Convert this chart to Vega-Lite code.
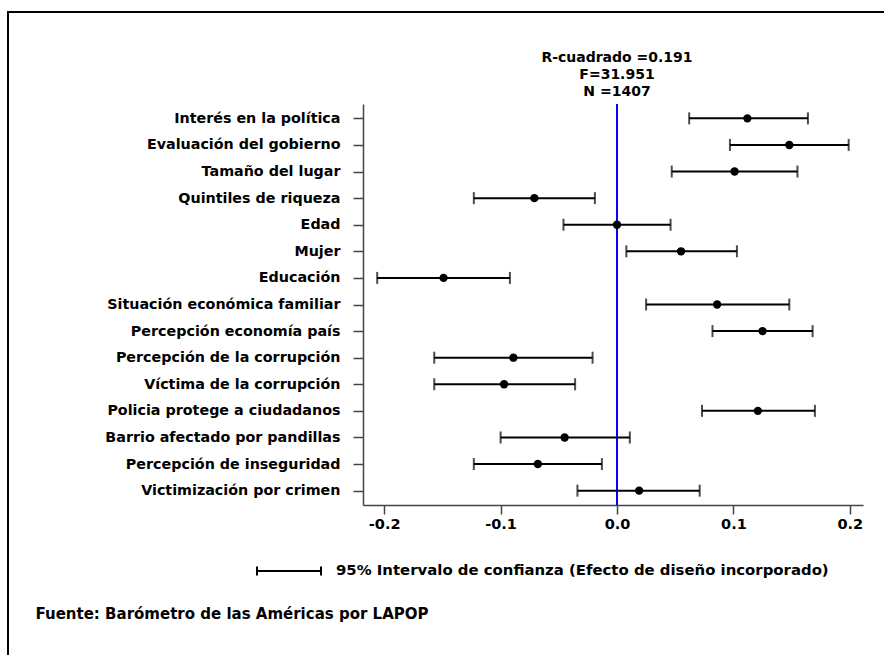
{
  "$schema": "https://vega.github.io/schema/vega-lite/v6.json",
  "width": 500,
  "height": 401,
  "autosize": {"type": "none"},
  "padding": {"left": 363, "top": 104, "right": 21, "bottom": 150},
  "background": "white",
  "title": {
    "text": ["R-cuadrado =0.191", "F=31.951", "N =1407"],
    "anchor": "middle",
    "frame": "group",
    "dx": 4,
    "dy": 95,
    "offset": 7,
    "font": "DejaVu Sans",
    "fontSize": 14,
    "fontWeight": "bold",
    "lineHeight": 17,
    "color": "black"
  },
  "config": {
    "view": {"stroke": null},
    "legend": {"strokeWidth": 2},
    "axis": {
      "domainColor": "#444",
      "tickColor": "#444",
      "domainWidth": 1.5,
      "tickWidth": 1.5,
      "grid": false,
      "labelFont": "DejaVu Sans",
      "labelFontWeight": "bold",
      "labelColor": "black"
    },
    "axisX": {
      "labelFontSize": 14.5,
      "tickSize": 9,
      "labelPadding": 3,
      "titleX": -328,
      "titleY": 108,
      "titleAlign": "left",
      "titleBaseline": "middle",
      "titleAngle": 0,
      "titleFont": "DejaVu Sans",
      "titleFontSize": 15,
      "titleFontWeight": "bold",
      "titleColor": "black"
    }
  },
  "data": {
    "values": [
      {"var": "Interés en la política", "coef": 0.112, "lo": 0.062, "hi": 0.164},
      {"var": "Evaluación del gobierno", "coef": 0.148, "lo": 0.097, "hi": 0.199},
      {"var": "Tamaño del lugar", "coef": 0.101, "lo": 0.047, "hi": 0.155},
      {"var": "Quintiles de riqueza", "coef": -0.071, "lo": -0.123, "hi": -0.019},
      {"var": "Edad", "coef": 0.0, "lo": -0.046, "hi": 0.046},
      {"var": "Mujer", "coef": 0.055, "lo": 0.008, "hi": 0.103},
      {"var": "Educación", "coef": -0.149, "lo": -0.206, "hi": -0.092},
      {"var": "Situación económica familiar", "coef": 0.086, "lo": 0.025, "hi": 0.148},
      {"var": "Percepción economía país", "coef": 0.125, "lo": 0.082, "hi": 0.168},
      {"var": "Percepción de la corrupción", "coef": -0.089, "lo": -0.157, "hi": -0.021},
      {"var": "Víctima de la corrupción", "coef": -0.097, "lo": -0.157, "hi": -0.036},
      {"var": "Policia protege a ciudadanos", "coef": 0.121, "lo": 0.073, "hi": 0.170},
      {"var": "Barrio afectado por pandillas", "coef": -0.045, "lo": -0.100, "hi": 0.011},
      {"var": "Percepción de inseguridad", "coef": -0.068, "lo": -0.123, "hi": -0.013},
      {"var": "Victimización por crimen", "coef": 0.019, "lo": -0.034, "hi": 0.071}
    ]
  },
  "layer": [
    {
      "data": {"values": [{"ref": 0}]},
      "mark": {"type": "rule", "color": "#0000ff", "strokeWidth": 2},
      "encoding": {
        "x": {"field": "ref", "type": "quantitative", "scale": {"domain": [-0.2182, 0.2113], "nice": false, "zero": false},
          "axis": {"title": "Fuente: Barómetro de las Américas por LAPOP", "values": [-0.2, -0.1, 0, 0.1, 0.2], "labelExpr": "replace(format(datum.value, '.1f'), '\u2212', '-')"}}
      }
    },
    {
      "mark": {"type": "rule", "strokeWidth": 2},
      "encoding": {
        "y": {
          "field": "var", "type": "nominal", "sort": null,
          "scale": {"type": "point", "padding": 0.54},
          "axis": {"title": null, "labelFontSize": 14.3, "tickSize": 10, "labelPadding": 13, "labelLimit": 400}
        },
        "x": {
          "field": "lo", "type": "quantitative",
          "scale": {"domain": [-0.2182, 0.2113], "nice": false, "zero": false},
          "axis": {"title": "Fuente: Barómetro de las Américas por LAPOP", "values": [-0.2, -0.1, 0, 0.1, 0.2], "labelExpr": "replace(format(datum.value, '.1f'), '\u2212', '-')"}
        },
        "x2": {"field": "hi"},
        "stroke": {
          "datum": "95% Intervalo de confianza (Efecto de diseño incorporado)",
          "type": "nominal",
          "scale": {"range": ["black"]},
          "legend": {
            "orient": "none",
            "legendX": -107,
            "legendY": 434,
            "title": null,
            "padding": 0,
            "symbolType": "M-1,-0.14L-1,0.14M-1,0L1,0M1,-0.14L1,0.14",
            "symbolSize": 4096,
            "symbolStrokeWidth": 2,
            "symbolStrokeColor": "black",
            "symbolFillColor": "transparent",
            "labelFont": "DejaVu Sans",
            "labelFontWeight": "bold",
            "labelFontSize": 14.9,
            "labelColor": "black",
            "labelOffset": 14,
            "labelLimit": 1000
          }
        }
      }
    },
    {
      "mark": {"type": "tick", "color": "black", "thickness": 2, "size": 12},
      "encoding": {
        "y": {"field": "var", "type": "nominal", "sort": null, "scale": {"type": "point", "padding": 0.54}},
        "x": {"field": "lo", "type": "quantitative", "scale": {"domain": [-0.2182, 0.2113], "nice": false, "zero": false},
          "axis": {"title": "Fuente: Barómetro de las Américas por LAPOP", "values": [-0.2, -0.1, 0, 0.1, 0.2], "labelExpr": "replace(format(datum.value, '.1f'), '\u2212', '-')"}}
      }
    },
    {
      "mark": {"type": "tick", "color": "black", "thickness": 2, "size": 12},
      "encoding": {
        "y": {"field": "var", "type": "nominal", "sort": null, "scale": {"type": "point", "padding": 0.54}},
        "x": {"field": "hi", "type": "quantitative", "scale": {"domain": [-0.2182, 0.2113], "nice": false, "zero": false},
          "axis": {"title": "Fuente: Barómetro de las Américas por LAPOP", "values": [-0.2, -0.1, 0, 0.1, 0.2], "labelExpr": "replace(format(datum.value, '.1f'), '\u2212', '-')"}}
      }
    },
    {
      "mark": {"type": "point", "filled": true, "color": "black", "size": 70, "opacity": 1},
      "encoding": {
        "y": {"field": "var", "type": "nominal", "sort": null, "scale": {"type": "point", "padding": 0.54}},
        "x": {"field": "coef", "type": "quantitative", "scale": {"domain": [-0.2182, 0.2113], "nice": false, "zero": false},
          "axis": {"title": "Fuente: Barómetro de las Américas por LAPOP", "values": [-0.2, -0.1, 0, 0.1, 0.2], "labelExpr": "replace(format(datum.value, '.1f'), '\u2212', '-')"}},
        "shape": {
          "datum": "marco",
          "type": "nominal",
          "legend": {
            "orient": "none",
            "legendX": -355,
            "legendY": -92,
            "padding": 600,
            "strokeColor": "black",
            "title": null,
            "symbolSize": 0,
            "symbolOpacity": 0,
            "labelExpr": "''"
          }
        }
      }
    }
  ]
}
